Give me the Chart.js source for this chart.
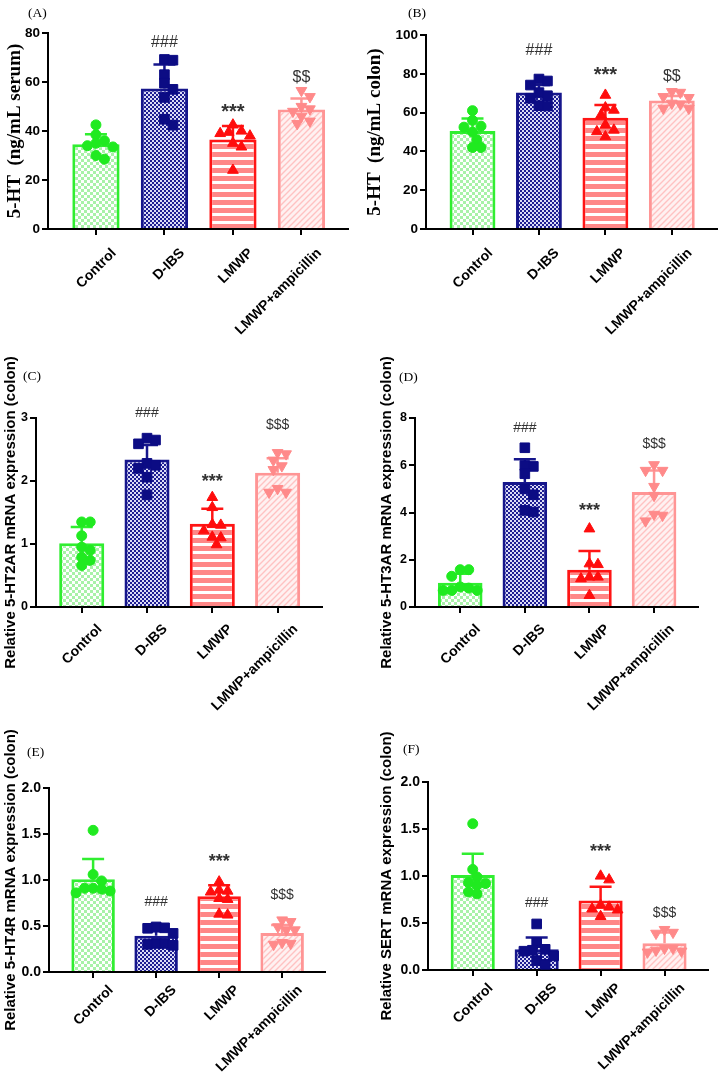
<!DOCTYPE html>
<html><head><meta charset="utf-8">
<script src="https://cdn.jsdelivr.net/npm/chart.js@4.4.1/dist/chart.umd.min.js"></script>
<style>
html,body{margin:0;padding:0;background:#fff;}
body{width:728px;height:1076px;position:relative;overflow:hidden;}
canvas{position:absolute;}
.plab{position:absolute;font-family:'Liberation Serif','Times New Roman',serif;font-size:13.5px;line-height:16px;color:#000;}
</style></head><body>
<script>
// ---------------- DATA ----------------
const categories = ['Control', 'D-IBS', 'LMWP', 'LMWP+ampicillin'];

// (A) 5-HT serum
const serumMean = [34.6, 57.3, 36.5, 48.8];
const serumSD = [4.1, 9.8, 5.5, 4.5];
const serumPoints = [
  [42.5, 38.5, 36, 35, 34, 33.5, 30, 28.5],
  [69.2, 68.9, 63, 59.5, 57, 53.7, 44.8, 42.4],
  [42.5, 40, 39.5, 39, 38, 35, 33.5, 24],
  [56.5, 54, 50, 49, 48, 46, 44, 43]
];
const serumMarks = ['', '###', '***', '$$'];

// (B) 5-HT colon
const colonMean = [50.5, 70.3, 57.4, 66.2];
const colonSD = [6.4, 3.9, 6.5, 2.4];
const colonPoints = [
  [61, 56, 53, 52.5, 50, 46, 42, 42],
  [77.3, 76.3, 74.2, 70.3, 68.7, 67.4, 63.6, 63.4],
  [69, 62.5, 61.3, 58.8, 53.6, 51, 50.2, 47.6],
  [70.8, 70.4, 68.2, 67.7, 64.8, 64.4, 62.2, 62.2]
];
const colonMarks = ['', '###', '***', '$$'];

// (C) 5-HT2AR
const ht2aMean = [1.01, 2.34, 1.32, 2.13];
const ht2aSD = [0.26, 0.23, 0.24, 0.23];
const ht2aPoints = [
  [1.35, 1.35, 1.13, 0.95, 0.9, 0.79, 0.74, 0.66],
  [2.68, 2.65, 2.59, 2.28, 2.25, 2.2, 2.06, 1.78],
  [1.74, 1.58, 1.31, 1.3, 1.21, 1.11, 1.1, 0.99],
  [2.45, 2.43, 2.33, 2.24, 2.18, 1.88, 1.82, 1.82]
];
const ht2aMarks = ['', '###', '***', '$$$'];

// (D) 5-HT3AR
const ht3aMean = [1.03, 5.29, 1.58, 4.87];
const ht3aSD = [0.38, 0.96, 0.79, 0.91];
const ht3aPoints = [
  [1.58, 1.58, 1.3, 0.85, 0.8, 0.7, 0.7, 0.7],
  [6.74, 5.99, 5.95, 5.64, 5.0, 4.75, 4.09, 4.02],
  [3.31, 1.83, 1.8, 1.27, 1.27, 1.2, 0.49],
  [6.02, 5.78, 5.78, 5.1, 4.72, 3.92, 3.88, 3.64]
];
const ht3aMarks = ['', '###', '***', '$$$'];

// (E) 5-HT4R
const ht4Mean = [1.007, 0.393, 0.823, 0.425];
const ht4SD = [0.22, 0.05, 0.12, 0.085];
const ht4Points = [
  [1.54, 1.06, 0.99, 0.91, 0.91, 0.9, 0.88, 0.86],
  [0.49, 0.48, 0.475, 0.42, 0.31, 0.31, 0.3, 0.29],
  [0.98, 0.89, 0.88, 0.87, 0.8, 0.79, 0.63, 0.62],
  [0.565, 0.547, 0.49, 0.457, 0.457, 0.32, 0.31, 0.3]
];
const ht4Marks = ['', '###', '***', '$$$'];

// (F) SERT
const sertMean = [1.01, 0.222, 0.74, 0.285];
const sertSD = [0.227, 0.125, 0.146, 0.115];
const sertPoints = [
  [1.556, 1.07, 0.99, 0.93, 0.92, 0.9, 0.83, 0.81],
  [0.49, 0.29, 0.22, 0.21, 0.2, 0.15, 0.1, 0.06],
  [1.0, 0.96, 0.69, 0.67, 0.65, 0.64, 0.57],
  [0.43, 0.4, 0.39, 0.23, 0.23, 0.21, 0.2, 0.19]
];
const sertMarks = ['', '###', '***', '$$$'];

// ---------------- STYLE / LAYOUT ----------------
const SANS = "'Liberation Sans', Arial, Helvetica, sans-serif";
const SERIF = "'Liberation Serif', 'Times New Roman', serif";
Chart.defaults.animation = false;
Chart.defaults.font.family = SANS;

function makePattern(kind) {
  const c = document.createElement('canvas');
  let ctx;
  if (kind === 'green') {
    c.width = 6; c.height = 6; ctx = c.getContext('2d');
    ctx.fillStyle = '#ffffff'; ctx.fillRect(0, 0, 6, 6);
    ctx.fillStyle = '#a8f2a8'; ctx.fillRect(0, 0, 3, 3); ctx.fillRect(3, 3, 3, 3);
  } else if (kind === 'navy') {
    c.width = 4; c.height = 4; ctx = c.getContext('2d');
    ctx.fillStyle = '#1e1e92'; ctx.fillRect(0, 0, 4, 4);
    ctx.fillStyle = '#dcdcf6'; ctx.fillRect(0, 0, 2, 2); ctx.fillRect(2, 2, 2, 2);
  } else if (kind === 'stripe') {
    c.width = 4; c.height = 8; ctx = c.getContext('2d');
    ctx.fillStyle = '#ffffff'; ctx.fillRect(0, 0, 4, 8);
    ctx.fillStyle = '#ff8787'; ctx.fillRect(0, 0, 4, 5);
  } else {
    c.width = 6; c.height = 6; ctx = c.getContext('2d');
    ctx.fillStyle = '#fff1f1'; ctx.fillRect(0, 0, 6, 6);
    ctx.strokeStyle = '#ffc2c2'; ctx.lineWidth = 1.4;
    ctx.beginPath();
    ctx.moveTo(-1, 7); ctx.lineTo(7, -1);
    ctx.moveTo(-4, 4); ctx.lineTo(4, -4);
    ctx.moveTo(2, 10); ctx.lineTo(10, 2);
    ctx.stroke();
  }
  return c.getContext('2d').createPattern(c, 'repeat');
}
const fills = ['green', 'navy', 'stripe', 'hatch'].map(k => makePattern(k));
const borders = ['#30ee30', '#16168c', '#ff1515', '#ff9595'];
const dotColors = ['#20ea20', '#0c0c84', '#ff0d0d', '#ff8a8a'];
const dotStyles = ['circle', 'rect', 'triangle', 'triangle'];
const dotRot = [0, 0, 0, 180];
const dotRadius = [5, 6.8, 6.2, 6.2];
const X_MIN = -0.7, X_MAX = 3.68;

const panels = [
  {tag: '(A)', lab: [28, 5], canvas: [0, 0, 364, 352], area: [48, 33, 348, 229], ymax: 80, step: 20, dec: 0,
   title: '5-HT\u2002(ng/mL serum)', tfont: {family: SERIF, size: 19, weight: 'bold'}, tpad: 4, tick: 13.5, markSize: 16, xpad: 10,
   mean: serumMean, sd: serumSD, pts: serumPoints, marks: serumMarks, markAt: [0, 75.9, 49, 61.6]},
  {tag: '(B)', lab: [408, 5], canvas: [364, 0, 364, 352], area: [426, 35, 717, 229], ymax: 100, step: 20, dec: 0,
   title: '5-HT\u2002(ng/mL colon)', tfont: {family: SERIF, size: 19, weight: 'bold'}, tpad: 0, tick: 13.5, markSize: 16, xpad: 10,
   mean: colonMean, sd: colonSD, pts: colonPoints, marks: colonMarks, markAt: [0, 91.8, 81.4, 78.4]},
  {tag: '(C)', lab: [23, 368], canvas: [0, 338, 364, 382], area: [36, 418, 322, 607], ymax: 3, step: 1, dec: 0,
   title: 'Relative 5-HT2AR mRNA expression (colon)', tfont: {family: SANS, size: 15, weight: 'bold'}, tpad: 2, tick: 12.5, markSize: 14, xpad: 8,
   mean: ht2aMean, sd: ht2aSD, pts: ht2aPoints, marks: ht2aMarks, markAt: [0, 3.08, 2.05, 2.89]},
  {tag: '(D)', lab: [399, 369], canvas: [364, 338, 364, 382], area: [415, 418, 698, 607], ymax: 8, step: 2, dec: 0,
   title: 'Relative 5-HT3AR mRNA expression (colon)', tfont: {family: SANS, size: 15, weight: 'bold'}, tpad: 14, tick: 12.5, markSize: 14, xpad: 8,
   mean: ht3aMean, sd: ht3aSD, pts: ht3aPoints, marks: ht3aMarks, markAt: [0, 7.58, 4.24, 6.9]},
  {tag: '(E)', lab: [27, 744], canvas: [0, 712, 364, 364], area: [49, 788, 325, 972], ymax: 2, step: 0.5, dec: 1,
   title: 'Relative 5-HT4R mRNA expression (colon)', tfont: {family: SANS, size: 15, weight: 'bold'}, tpad: 2, tick: 14, markSize: 14, xpad: 4,
   mean: ht4Mean, sd: ht4SD, pts: ht4Points, marks: ht4Marks, markAt: [0, 0.76, 1.24, 0.84]},
  {tag: '(F)', lab: [403, 741], canvas: [364, 712, 364, 364], area: [428, 782, 708, 970], ymax: 2, step: 0.5, dec: 1,
   title: 'Relative SERT mRNA expression (colon)', tfont: {family: SANS, size: 15, weight: 'bold'}, tpad: 14, tick: 14, markSize: 14, xpad: 4,
   mean: sertMean, sd: sertSD, pts: sertPoints, marks: sertMarks, markAt: [0, 0.71, 1.3, 0.61]}
];

// beeswarm spreading (pixel offsets) so markers do not overlap much
function swarm(vals, pxPerUnit, d) {
  const idx = vals.map((_, i) => i).sort((a, b) => vals[b] - vals[a]);
  const placed = [];
  const off = new Array(vals.length).fill(0);
  for (const i of idx) {
    const y = vals[i] * pxPerUnit;
    const cands = [0];
    for (let k = 1; k <= 12; k++) cands.push(k * d / 2, -k * d / 2);
    for (const c of cands) {
      if (placed.every(p => Math.hypot(p.x - c, p.y - y) >= d * 0.95)) {
        off[i] = c; placed.push({x: c, y}); break;
      }
    }
  }
  return off;
}

panels.forEach(P => {
  const [cx, cy, cw, ch] = P.canvas;
  const [al, at, ar, ab] = P.area;
  const cv = document.createElement('canvas');
  cv.width = cw; cv.height = ch;
  cv.style.left = cx + 'px'; cv.style.top = cy + 'px';
  document.body.appendChild(cv);
  const lab = document.createElement('div');
  lab.className = 'plab'; lab.textContent = P.tag;
  lab.style.left = P.lab[0] + 'px'; lab.style.top = P.lab[1] + 'px';
  document.body.appendChild(lab);

  const yAxisW = al - cx;
  const padTop = at - cy;
  const padRight = cx + cw - ar;
  const xAxisH = cy + ch - ab;
  const plotH = ab - at;
  const catPx = (ar - al) / (X_MAX - X_MIN);
  const pxPerUnit = plotH / P.ymax;

  const scatterSets = P.pts.map((vals, g) => {
    const off = swarm(vals, pxPerUnit, 8.5);
    return {
      type: 'scatter',
      data: vals.map((v, k) => ({x: g + off[k] / catPx, y: v})),
      pointStyle: dotStyles[g], pointRotation: dotRot[g], pointRadius: dotRadius[g],
      pointBackgroundColor: dotColors[g], pointBorderColor: dotColors[g], pointBorderWidth: 1,
      pointHoverRadius: dotRadius[g]
    };
  });
  const barSet = {
    type: 'bar',
    data: P.mean.map((m, g) => ({x: g, y: m})),
    backgroundColor: fills, borderColor: borders, borderWidth: 3,
    barPercentage: 0.69, categoryPercentage: 1
  };
  const barIndex = scatterSets.length;

  const errPlugin = {
    id: 'errbars',
    afterDatasetDraw(chart, args) {
      if (args.index !== barIndex) return;
      const ys = chart.scales.y, ctx = chart.ctx;
      args.meta.data.forEach((bar, g) => {
        const yb = ys.getPixelForValue(P.mean[g]);
        const yt = ys.getPixelForValue(P.mean[g] + P.sd[g]);
        ctx.save();
        ctx.strokeStyle = borders[g]; ctx.lineWidth = 2.5;
        ctx.beginPath();
        ctx.moveTo(bar.x, yb); ctx.lineTo(bar.x, yt);
        ctx.moveTo(bar.x - 11, yt); ctx.lineTo(bar.x + 11, yt);
        ctx.stroke(); ctx.restore();
      });
    }
  };
  const markPlugin = {
    id: 'marks',
    afterDraw(chart) {
      const ctx = chart.ctx, xs = chart.scales.x, ys = chart.scales.y;
      ctx.save();
      ctx.fillStyle = '#333333'; ctx.textAlign = 'center'; ctx.textBaseline = 'middle';
      P.marks.forEach((t, g) => {
        if (!t) return;
        const star = t[0] === '*';
        ctx.font = (star ? 'bold ' + (P.markSize + 4) : P.markSize) + 'px ' + SANS;
        ctx.fillText(t, xs.getPixelForValue(g), ys.getPixelForValue(P.markAt[g]) + (star ? 4 : 0));
      });
      ctx.restore();
    }
  };

  new Chart(cv, {
    type: 'bar',
    data: {datasets: [...scatterSets, barSet]},
    options: {
      responsive: false, animation: false, devicePixelRatio: 1,
      layout: {padding: {left: 0, top: padTop, right: padRight, bottom: 0}},
      plugins: {legend: {display: false}, tooltip: {enabled: false}},
      scales: {
        x: {
          type: 'linear', min: X_MIN, max: X_MAX, offset: false,
          afterBuildTicks: s => { s.ticks = categories.map((_, i) => ({value: i})); },
          afterFit: s => { s.height = xAxisH; },
          ticks: {autoSkip: false, minRotation: 45, maxRotation: 45, color: '#000',
                  font: {family: SANS, size: 14, weight: 'bold'}, padding: P.xpad, labelOffset: 18,
                  callback: v => categories[v]},
          grid: {display: true, offset: false, drawOnChartArea: false, drawTicks: true, tickLength: 6, color: '#000', lineWidth: 2},
          border: {display: true, color: '#000', width: 2}
        },
        y: {
          min: 0, max: P.ymax,
          afterFit: s => { s.width = yAxisW; },
          ticks: {stepSize: P.step, color: '#000', padding: 2,
                  font: {family: SANS, size: P.tick, weight: 'bold'},
                  callback: v => Number(v).toFixed(P.dec)},
          grid: {display: true, drawOnChartArea: false, drawTicks: true, tickLength: 6, color: '#000', lineWidth: 2},
          border: {display: true, color: '#000', width: 2},
          title: {display: true, text: P.title, color: '#000', font: P.tfont, padding: {top: P.tpad, bottom: 0}}
        }
      }
    },
    plugins: [errPlugin, markPlugin]
  });
});
</script>
</body></html>
